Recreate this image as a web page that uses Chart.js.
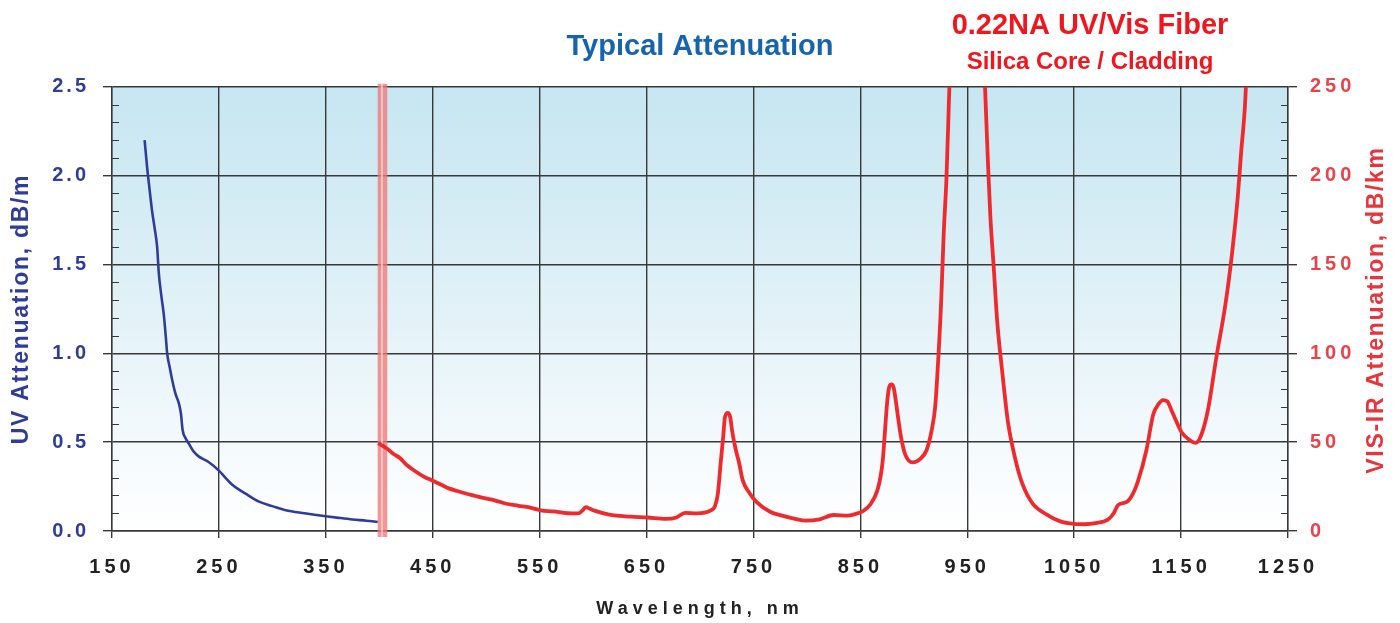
<!DOCTYPE html>
<html>
<head>
<meta charset="utf-8">
<style>
  html, body { margin: 0; padding: 0; background: #ffffff; }
  #wrap { width: 1400px; height: 623px; }
</style>
<script src="https://cdn.jsdelivr.net/npm/chart.js@4.4.1/dist/chart.umd.min.js"></script>
</head>
<body>
<div id="wrap"><canvas id="c" width="1400" height="623"></canvas></div>
<script>
// ---------- data ----------
const uvWavelength = [180.5,182.8,185,187.5,190,192.2,193.8,196,198.4,200.5,201.6,204,206.3,209.5,212.5,214.5,216,219,222,226,231,240,250,256,262.5,275,287.5,300,312.5,330,350,362,375,388,398.5];
const uvAttenuation = [2.20,2.05,1.93,1.80,1.70,1.60,1.45,1.33,1.22,1.08,1.00,0.92,0.85,0.77,0.72,0.66,0.57,0.52,0.49,0.45,0.42,0.39,0.34,0.30,0.26,0.21,0.165,0.14,0.117,0.10,0.083,0.074,0.065,0.058,0.051];

const visWavelength = [399,403,408,413,419,426,434,442,450,458,465,473,481,490,497,504,512,520,530,543,551,563,576,586,590,593,597,602,615,635,651,668,678,686,697,710,714,716.7,719.3,721.7,723.3,726,728.3,730,733,736.7,740,746.7,753,766,776,789,799,812,825,838,845,853,860,866,869,871,873,875,877,879,881,883,885,888,892,899,906,912,917,920,922,925.5,928,930.5,933,936,945,955,963,966.6,969.3,971.5,974.8,978,983,988,994.5,1001,1011,1024,1037,1050,1060,1070,1081.5,1087,1091,1099.6,1105,1109.4,1117.6,1124,1129,1133,1137,1141,1145.6,1150.5,1157,1163.7,1168.6,1175,1183,1191.6,1198,1203,1206.3,1209.6,1211,1214];
const visAttenuation = [49.4,48.0,46.0,43.5,41.2,37.0,33.5,30.5,28.3,26.0,24.0,22.5,21.1,19.7,18.6,17.8,16.5,15.2,14.2,12.9,11.6,11.0,10.0,9.9,11.5,13.4,12.5,11.3,9.2,8.1,7.6,6.8,7.6,10.2,9.9,11.6,14,21,38,53,64,66.5,64,56.6,47,38,28.5,21,16.3,10.7,8.8,6.8,5.8,6.6,9.0,8.6,9.5,11.4,15.5,23,31,40,56,72,81,82.5,81,74,65,53,43,38.6,40.6,45.6,57.6,70,87.7,128,168,198,245,300,500,550,300,250,208,178,148,118,88,61.6,41.6,27.5,15.5,9.4,5.4,4.0,3.8,4.4,6.4,10,14.6,16.5,21,27.5,45.6,65.7,71.5,73.7,73,68,61.6,55.6,51.6,49.6,53.6,67.7,97.8,128,158,188,214,238,255,300];

const xTickValues = [150,250,350,450,550,650,750,850,950,1050,1150,1250];
const xTickLabels = ['150','250','350','450','550','650','750','850','950','1050','1150','1250'];
const uvTickValues = [0,0.5,1,1.5,2,2.5];
const uvTickLabels = ['0.0','0.5','1.0','1.5','2.0','2.5'];
const visTickValues = [0,50,100,150,200,250];
const visTickLabels = ['0','50','100','150','200','250'];

const mainTitle = 'Typical Attenuation';
const fiberTitle = '0.22NA UV/Vis Fiber';
const fiberSubtitle = 'Silica Core / Cladding';
const xTitle = 'Wavelength, nm';
const uvTitle = 'UV Attenuation, dB/m';
const visTitle = 'VIS-IR Attenuation, dB/km';

// ---------- styling ----------
const FONT = '"Liberation Sans", Arial, Helvetica, sans-serif';
const GRID = '#383838';
const UV_COLOR = '#2f3c98';
const VIS_COLOR = '#ee2a2e';
const bandRange = [398.5, 407.5];

const letterSpacingPlugin = {
  id: 'letterSpacing',
  beforeDraw(chart) {
    const spacing = { x: '4px', y: '3px', y2: '4px' };
    for (const id of Object.keys(spacing)) {
      const s = chart.scales[id];
      if (s && !s._lsPatched) {
        const orig = s.drawLabels.bind(s);
        s.drawLabels = function (area) {
          const c = this.ctx;
          const prev = c.letterSpacing;
          c.letterSpacing = spacing[id];
          orig(area);
          c.letterSpacing = prev || '0px';
        };
        s._lsPatched = true;
      }
    }
  }
};

const backgroundPlugin = {
  id: 'bgGradient',
  beforeDraw(chart) {
    const { ctx, chartArea: a } = chart;
    const g = ctx.createLinearGradient(0, a.top, 0, a.bottom);
    g.addColorStop(0, '#c6e6f1');
    g.addColorStop(0.45, '#dff0f7');
    g.addColorStop(1, '#ffffff');
    ctx.save();
    ctx.fillStyle = g;
    ctx.fillRect(a.left, a.top, a.right - a.left, a.bottom - a.top);
    ctx.restore();
  }
};

const decorPlugin = {
  id: 'decor',
  beforeDatasetsDraw(chart) {
    const { ctx, chartArea: a, scales } = chart;
    ctx.save();
    // minor ticks, inside the plot
    ctx.strokeStyle = GRID;
    ctx.lineWidth = 1.2;
    ctx.beginPath();
    for (let v = 0.1; v < 2.5; v += 0.1) {
      if (Math.abs(v * 2 - Math.round(v * 2)) < 1e-6) continue;
      const y = Math.round(scales.y.getPixelForValue(v)) + 0.5;
      ctx.moveTo(a.left, y); ctx.lineTo(a.left + 7, y);
    }
    for (let v = 10; v < 250; v += 10) {
      if (v % 50 === 0) continue;
      const y = Math.round(scales.y2.getPixelForValue(v)) + 0.5;
      ctx.moveTo(a.right - 7, y); ctx.lineTo(a.right, y);
    }
    ctx.stroke();
    // pink band
    const x0 = scales.x.getPixelForValue(bandRange[0]);
    const x1 = scales.x.getPixelForValue(bandRange[1]);
    ctx.fillStyle = 'rgba(238,120,120,0.78)';
    ctx.fillRect(x0, a.top - 3, x1 - x0, a.bottom - a.top + 9);
    ctx.fillStyle = 'rgba(252,215,215,0.85)';
    ctx.fillRect(x0 + 3.5, a.top - 3, 1.6, a.bottom - a.top + 9);
    ctx.restore();
  }
};

const textPlugin = {
  id: 'texts',
  afterDraw(chart) {
    const ctx = chart.ctx;
    ctx.save();
    ctx.letterSpacing = '0px';
    ctx.textAlign = 'center';
    ctx.textBaseline = 'middle';
    ctx.fillStyle = '#f0161e';
    ctx.font = 'bold 29px ' + FONT;
    ctx.fillText(fiberTitle, 1090, 26);
    ctx.font = 'bold 24px ' + FONT;
    ctx.fillText(fiberSubtitle, 1090, 62);

    ctx.fillStyle = '#222222';
    ctx.font = 'bold 18px ' + FONT;
    ctx.letterSpacing = '5px';
    ctx.fillText(xTitle, 700, 609);

    ctx.letterSpacing = '1.7px';
    ctx.font = 'bold 23px ' + FONT;
    ctx.save();
    ctx.translate(22, 309);
    ctx.rotate(-Math.PI / 2);
    ctx.fillStyle = UV_COLOR;
    ctx.fillText(uvTitle, 0, 0);
    ctx.restore();

    ctx.save();
    ctx.translate(1377, 310);
    ctx.rotate(-Math.PI / 2);
    ctx.fillStyle = '#e8343a';
    ctx.fillText(visTitle, 0, 0);
    ctx.restore();
    ctx.restore();
  }
};

const uvPoints = uvWavelength.map((x, i) => ({ x, y: uvAttenuation[i] }));
const visPoints = visWavelength.map((x, i) => ({ x, y: visAttenuation[i] }));

new Chart(document.getElementById('c'), {
  type: 'line',
  data: {
    datasets: [
      {
        label: 'UV Attenuation, dB/m',
        data: uvPoints,
        yAxisID: 'y',
        borderColor: UV_COLOR,
        borderWidth: 2.6,
        pointRadius: 0,
        cubicInterpolationMode: 'monotone',
        fill: false
      },
      {
        label: 'VIS-IR Attenuation, dB/km',
        data: visPoints,
        yAxisID: 'y2',
        borderColor: VIS_COLOR,
        borderWidth: 3.8,
        pointRadius: 0,
        cubicInterpolationMode: 'monotone',
        fill: false
      }
    ]
  },
  options: {
    responsive: false,
    animation: false,
    devicePixelRatio: 1,
    layout: { padding: { top: 0, left: 0, right: 0, bottom: 0 } },
    plugins: {
      legend: { display: false },
      tooltip: { enabled: false },
      title: {
        display: true,
        text: mainTitle,
        color: '#1664b0',
        font: { family: FONT, size: 29, weight: 'bold', lineHeight: 1.2 },
        padding: { top: 30, bottom: 22 }
      }
    },
    scales: {
      x: {
        type: 'linear',
        position: 'bottom',
        min: 150,
        max: 1250,
        afterBuildTicks: s => { s.ticks = xTickValues.map(v => ({ value: v })); },
        ticks: {
          callback: (v, i) => xTickLabels[i],
          color: '#222222',
          font: { family: FONT, size: 20, weight: 'bold' },
          padding: 17,
          maxRotation: 0,
          autoSkip: false
        },
        grid: { color: GRID, lineWidth: 1.4, tickLength: 7, drawTicks: true },
        border: { color: GRID, width: 1.4 },
        afterFit: s => { s.height = 92; }
      },
      y: {
        type: 'linear',
        position: 'left',
        min: 0,
        max: 2.5,
        afterBuildTicks: s => { s.ticks = uvTickValues.map(v => ({ value: v })); },
        ticks: {
          callback: (v, i) => uvTickLabels[i],
          color: UV_COLOR,
          font: { family: FONT, size: 20, weight: 'bold' },
          padding: 14
        },
        grid: { color: GRID, lineWidth: 1.4, tickLength: 9 },
        border: { color: GRID, width: 1.4 },
        afterFit: s => { s.width = 112; }
      },
      y2: {
        type: 'linear',
        position: 'right',
        min: 0,
        max: 250,
        afterBuildTicks: s => { s.ticks = visTickValues.map(v => ({ value: v })); },
        ticks: {
          callback: (v, i) => visTickLabels[i],
          color: '#e8434a',
          font: { family: FONT, size: 20, weight: 'bold' },
          padding: 13
        },
        grid: { color: GRID, lineWidth: 1.4, tickLength: 9, drawOnChartArea: false },
        border: { color: GRID, width: 1.4 },
        afterFit: s => { s.width = 112; }
      }
    }
  },
  plugins: [letterSpacingPlugin, backgroundPlugin, decorPlugin, textPlugin]
});
</script>
</body>
</html>
